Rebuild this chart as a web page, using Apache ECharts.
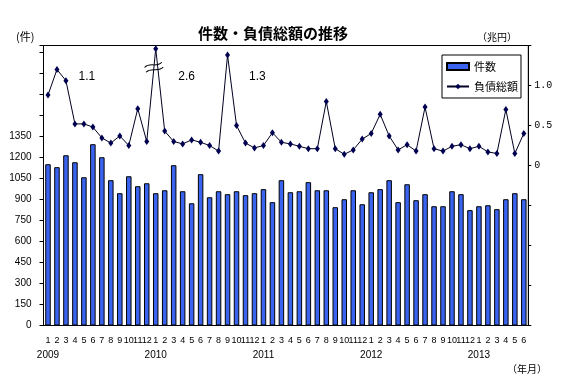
<!DOCTYPE html>
<html><head><meta charset="utf-8">
<script src="https://cdn.jsdelivr.net/npm/echarts@6/dist/echarts.min.js"></script>
<style>html,body{margin:0;padding:0;background:#fff}#c{width:572px;height:388px}</style>
</head><body><div id="c"></div>
<script>
// ---- data ----
const categories = [
 '2009/1','2009/2','2009/3','2009/4','2009/5','2009/6','2009/7','2009/8','2009/9','2009/10','2009/11','2009/12',
 '2010/1','2010/2','2010/3','2010/4','2010/5','2010/6','2010/7','2010/8','2010/9','2010/10','2010/11','2010/12',
 '2011/1','2011/2','2011/3','2011/4','2011/5','2011/6','2011/7','2011/8','2011/9','2011/10','2011/11','2011/12',
 '2012/1','2012/2','2012/3','2012/4','2012/5','2012/6','2012/7','2012/8','2012/9','2012/10','2012/11','2012/12',
 '2013/1','2013/2','2013/3','2013/4','2013/5','2013/6'
];
const counts = [
 1152,1131,1216,1166,1059,1295,1202,1038,945,1066,995,1016,
 945,966,1145,959,873,1081,916,959,938,959,931,945,
 974,881,1038,952,959,1024,966,966,845,902,966,866,
 952,974,1038,881,1009,895,938,852,852,959,938,824,
 852,859,831,902,945,902
];
const debts = [
 0.88,1.20,1.06,0.52,0.52,0.48,0.345,0.28,0.37,0.25,0.71,0.30,
 2.6,0.43,0.30,0.27,0.32,0.29,0.25,0.18,1.38,0.50,0.28,0.22,
 0.25,0.41,0.29,0.27,0.24,0.21,0.21,0.80,0.21,0.14,0.195,0.33,
 0.40,0.64,0.37,0.195,0.26,0.18,0.73,0.21,0.18,0.24,0.26,0.21,
 0.24,0.17,0.15,0.70,0.15,0.40
];
const peakNotes = {1:'1.1', 12:'2.6', 20:'1.3'};
const leftMaxLabel = 1350;
const rightLabelRange = [0, 1.0];
const seriesNames = ['件数','負債総額'];

// ---- chart ----
const RIGHT_MAX = 1.5;
const DISPLAY_CAP = 1.46;
const noteOffsets = {1:[19,7], 12:[20,28], 20:[19,22]};
const chart = echarts.init(document.getElementById('c'), null, {renderer:'canvas'});
const lineData = debts.map((v,i)=>{
  const it = {value: Math.min(v, DISPLAY_CAP)};
  if (peakNotes[i]) {
    it.label = {show:true, position:'right', distance:noteOffsets[i][0], offset:[0,noteOffsets[i][1]],
      formatter: peakNotes[i], fontSize:12, color:'#000', fontFamily:'Liberation Sans'};
  }
  return it;
});
const option = {
  animation:false,
  backgroundColor:'#fff',
  title:[
    {text:'件数・負債総額の推移', left:193, top:21, textStyle:{fontSize:15, fontWeight:'bold', color:'#000', fontFamily:'Noto Sans CJK JP'}},
    {text:'(件)', left:11, top:26, textStyle:{fontSize:11, fontWeight:'normal', color:'#000', fontFamily:'Noto Sans CJK JP'}},
    {text:'（兆円）', left:472, top:27, textStyle:{fontSize:10, fontWeight:'normal', color:'#000', fontFamily:'Noto Sans CJK JP'}},
    {text:'（年月）', left:502, top:359, textStyle:{fontSize:10, fontWeight:'normal', color:'#000', fontFamily:'Noto Sans CJK JP'}}
  ],
  grid:{left:43.5, right:43.7, top:45.5, bottom:62.5, show:true, borderColor:'#000', borderWidth:1},
  legend:{
    orient:'vertical', left:442, top:55, padding:[6,3,6,4], itemGap:9, itemWidth:22, itemHeight:7,
    borderColor:'#000', borderWidth:1, backgroundColor:'#fff', itemTextGap:5,
    textStyle:{fontSize:11, color:'#000', fontFamily:'Noto Sans CJK JP'},
    data:[{name:seriesNames[0], icon:'rect'}, {name:seriesNames[1]}]
  },
  xAxis:{
    type:'category', data:categories, boundaryGap:true,
    axisLine:{lineStyle:{color:'#000', width:1}}, axisTick:{show:false},
    axisLabel:{interval:0, margin:10, color:'#000', hideOverlap:false,
      formatter:(v)=>{const p=v.split('/'); return p[1]==='1' ? '{m|'+p[1]+'}\n{y|'+p[0]+'}' : '{m|'+p[1]+'}';},
      rich:{m:{fontSize:9, lineHeight:11, fontFamily:'Liberation Sans', color:'#000'},
            y:{fontSize:10, lineHeight:17, fontFamily:'Liberation Sans', color:'#000'}}}
  },
  yAxis:[
    {type:'value', position:'left', min:0, max:2000, interval:150,
     axisLine:{show:true, lineStyle:{color:'#000'}}, axisTick:{show:true, length:4, lineStyle:{color:'#000'}},
     splitLine:{show:false},
     axisLabel:{margin:12, fontSize:10, color:'#000', fontFamily:'Liberation Sans',
       formatter:(v)=> v<=leftMaxLabel ? String(v) : ''}},
    {type:'value', position:'right', min:-2, max:RIGHT_MAX, interval:0.5,
     axisLine:{show:true, lineStyle:{color:'#000'}}, axisTick:{show:true, length:3, lineStyle:{color:'#000'}},
     splitLine:{show:false},
     axisLabel:{margin:6, fontSize:10, color:'#000', fontFamily:'Liberation Mono',
       formatter:(v)=> (v>=rightLabelRange[0]-1e-9 && v<=rightLabelRange[1]+1e-9) ? (Math.abs(v)<1e-9 ? '0' : v.toFixed(1)) : ''}}
  ],
  series:[
    {name:seriesNames[0], type:'bar', yAxisIndex:0, data:counts, barWidth:5.5,
     itemStyle:{color:'#3a64f0', borderColor:'#000', borderWidth:1}},
    {name:seriesNames[1], type:'line', yAxisIndex:1, data:lineData, z:5,
     symbol:'diamond', symbolSize:[5,7], showAllSymbol:true,
     itemStyle:{color:'#000050'}, lineStyle:{color:'#000020', width:1}}
  ]
};
chart.setOption(option);

// break mark on the off-scale point
(function(){
  const idx = 12;
  const pa = chart.convertToPixel({xAxisIndex:0, yAxisIndex:1}, [idx-1, lineData[idx-1].value]);
  const pb = chart.convertToPixel({xAxisIndex:0, yAxisIndex:1}, [idx, lineData[idx].value]);
  const t = 0.8;
  const x = pa[0] + (pb[0]-pa[0])*t, y = pa[1] + (pb[1]-pa[1])*t;
  const wave = (dy)=>({type:'bezierCurve',
    shape:{x1:-9, y1:dy, cpx1:-3, cpy1:dy-4, cpx2:3, cpy2:dy+4, x2:9, y2:dy},
    style:{fill:null, stroke:'#000', lineWidth:1}});
  chart.setOption({graphic:[{
    type:'group', x:x, y:y, rotation:0.3, z:100,
    children:[
      {type:'rect', shape:{x:-9, y:-2.5, width:18, height:5}, style:{fill:'#fff'}},
      wave(-2.5), wave(2.5)
    ]
  }]});
})();
</script>
</body></html>
